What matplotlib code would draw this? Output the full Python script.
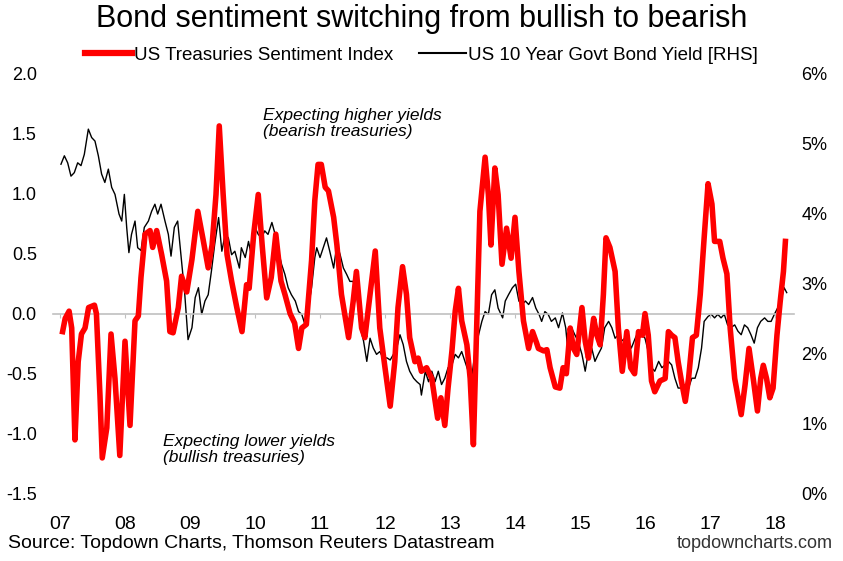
import numpy as np
import matplotlib.pyplot as plt
from matplotlib.lines import Line2D

# US Treasuries sentiment index (left axis)
sent_year = [2007.04, 2007.08, 2007.14, 2007.18, 2007.23, 2007.28, 2007.33, 2007.385, 2007.44, 2007.53,
             2007.56, 2007.615, 2007.65, 2007.72, 2007.785, 2007.846, 2007.92, 2008.0, 2008.077, 2008.154,
             2008.205, 2008.246, 2008.308, 2008.385, 2008.426, 2008.487, 2008.564, 2008.64, 2008.69, 2008.74,
             2008.82, 2008.87, 2008.95, 2009.03, 2009.12, 2009.20, 2009.28, 2009.34, 2009.40, 2009.45,
             2009.51, 2009.57, 2009.64, 2009.72, 2009.80, 2009.87, 2009.91, 2009.98, 2010.05, 2010.11,
             2010.18, 2010.25, 2010.32, 2010.40, 2010.46, 2010.54, 2010.61, 2010.67, 2010.72, 2010.79,
             2010.87, 2010.92, 2010.97, 2011.02, 2011.08, 2011.13, 2011.21, 2011.26, 2011.33, 2011.44,
             2011.51, 2011.56, 2011.64, 2011.69, 2011.77, 2011.85, 2011.92, 2012.0, 2012.08, 2012.15,
             2012.2, 2012.27, 2012.33, 2012.38, 2012.46, 2012.51, 2012.56, 2012.64, 2012.72, 2012.81,
             2012.86, 2012.92, 2012.97, 2013.03, 2013.08, 2013.13, 2013.18, 2013.26, 2013.31, 2013.36,
             2013.41, 2013.46, 2013.54, 2013.59, 2013.63, 2013.69, 2013.74, 2013.80, 2013.87, 2013.94,
             2014.0, 2014.06, 2014.13, 2014.21, 2014.27, 2014.33, 2014.36, 2014.44, 2014.49, 2014.54,
             2014.62, 2014.69, 2014.74, 2014.79, 2014.85, 2014.90, 2014.95, 2015.03, 2015.08, 2015.13,
             2015.21, 2015.26, 2015.31, 2015.36, 2015.40, 2015.46, 2015.54, 2015.59, 2015.65, 2015.72,
             2015.78, 2015.84, 2015.90, 2015.96, 2016.0, 2016.05, 2016.10, 2016.15, 2016.23, 2016.31,
             2016.36, 2016.41, 2016.46, 2016.51, 2016.56, 2016.62, 2016.67, 2016.73, 2016.79, 2016.85,
             2016.91, 2016.97, 2017.03, 2017.07, 2017.15, 2017.20, 2017.26, 2017.31, 2017.38, 2017.48,
             2017.54, 2017.60, 2017.67, 2017.73, 2017.78, 2017.82, 2017.87, 2017.92, 2017.97, 2018.03,
             2018.08, 2018.13, 2018.16]
sent_val = [-0.15, -0.04, 0.02, -0.12, -1.05, -0.40, -0.17, -0.12, 0.05, 0.07,
            0.00, -0.68, -1.20, -0.95, -0.17, -0.54, -1.18, -0.23, -0.93, -0.06,
            -0.02, 0.30, 0.66, 0.69, 0.55, 0.69, 0.49, 0.27, -0.15, -0.16,
            0.05, 0.31, 0.18, 0.45, 0.85, 0.62, 0.38, 0.57, 0.99, 1.56,
            0.99, 0.49, 0.27, 0.05, -0.15, 0.24, 0.21, 0.66, 0.99, 0.57,
            0.13, 0.30, 0.66, 0.27, 0.16, 0.00, -0.08, -0.29, -0.12, -0.09,
            0.44, 0.94, 1.24, 1.24, 1.05, 1.02, 0.80, 0.57, 0.16, -0.20,
            0.10, 0.35, -0.12, -0.20, 0.16, 0.52, -0.12, -0.45, -0.77, -0.40,
            0.05, 0.39, 0.16, -0.20, -0.40, -0.37, -0.48, -0.45, -0.54, -0.87,
            -0.70, -0.93, -0.62, -0.31, 0.02, 0.21, -0.06, -0.26, -0.54, -1.09,
            -0.12, 0.85, 1.30, 0.99, 0.57, 1.21, 0.99, 0.41, 0.71, 0.46,
            0.80, 0.35, -0.06, -0.29, -0.15, -0.24, -0.29, -0.31, -0.30, -0.45,
            -0.61, -0.62, -0.45, -0.50, -0.12, -0.29, -0.34, 0.05, -0.23, -0.37,
            -0.04, -0.18, -0.26, 0.16, 0.63, 0.55, 0.35, -0.12, -0.48, -0.15,
            -0.45, -0.50, -0.15, -0.18, 0.00, -0.18, -0.56, -0.65, -0.56, -0.54,
            -0.15, -0.18, -0.20, -0.40, -0.56, -0.73, -0.54, -0.20, -0.18, 0.16,
            0.63, 1.08, 0.91, 0.60, 0.60, 0.46, 0.33, -0.12, -0.54, -0.84,
            -0.59, -0.29, -0.56, -0.81, -0.54, -0.43, -0.54, -0.70, -0.62, -0.18,
            0.10, 0.35, 0.60]

# US 10 year govt bond yield, % (right axis)
yield_year = [2007.015, 2007.067, 2007.118, 2007.169, 2007.22, 2007.272, 2007.323, 2007.374, 2007.436, 2007.487,
              2007.538, 2007.59, 2007.64, 2007.69, 2007.744, 2007.795, 2007.846, 2007.908, 2007.95, 2007.99,
              2008.026, 2008.06, 2008.10, 2008.154, 2008.195, 2008.246, 2008.297, 2008.36, 2008.41, 2008.46,
              2008.503, 2008.554, 2008.615, 2008.667, 2008.708, 2008.759, 2008.81, 2008.87, 2008.92, 2008.97,
              2009.03, 2009.08, 2009.13, 2009.18, 2009.23, 2009.28, 2009.33, 2009.38, 2009.44, 2009.49,
              2009.54, 2009.59, 2009.64, 2009.69, 2009.76, 2009.79, 2009.85, 2009.90, 2009.95, 2010.0,
              2010.05, 2010.10, 2010.15, 2010.20, 2010.26, 2010.31, 2010.36, 2010.41, 2010.46, 2010.51,
              2010.56, 2010.62, 2010.67, 2010.72, 2010.77, 2010.82, 2010.87, 2010.92, 2010.95, 2011.0,
              2011.05, 2011.10, 2011.15, 2011.21, 2011.26, 2011.31, 2011.36, 2011.41, 2011.46, 2011.51,
              2011.56, 2011.62, 2011.67, 2011.72, 2011.77, 2011.82, 2011.87, 2011.92, 2011.97, 2012.03,
              2012.08, 2012.13, 2012.18, 2012.23, 2012.28, 2012.33, 2012.38, 2012.44, 2012.49, 2012.54,
              2012.56, 2012.62, 2012.67, 2012.72, 2012.77, 2012.82, 2012.87, 2012.92, 2012.97, 2013.03,
              2013.08, 2013.13, 2013.18, 2013.23, 2013.28, 2013.33, 2013.38, 2013.44, 2013.49, 2013.54,
              2013.59, 2013.64, 2013.69, 2013.74, 2013.81, 2013.85, 2013.90, 2013.96, 2014.01, 2014.06,
              2014.11, 2014.16, 2014.21, 2014.27, 2014.32, 2014.37, 2014.41, 2014.46, 2014.51, 2014.56,
              2014.62, 2014.67, 2014.73, 2014.78, 2014.81, 2014.87, 2014.92, 2014.97, 2015.03, 2015.08,
              2015.13, 2015.18, 2015.23, 2015.28, 2015.33, 2015.38, 2015.44, 2015.49, 2015.54, 2015.59,
              2015.64, 2015.69, 2015.74, 2015.79, 2015.85, 2015.90, 2015.95, 2016.0, 2016.05, 2016.10,
              2016.15, 2016.21, 2016.26, 2016.31, 2016.36, 2016.41, 2016.46, 2016.51, 2016.56, 2016.62,
              2016.67, 2016.72, 2016.77, 2016.82, 2016.87, 2016.91, 2016.97, 2017.02, 2017.07, 2017.12,
              2017.17, 2017.22, 2017.27, 2017.32, 2017.38, 2017.43, 2017.48, 2017.53, 2017.58, 2017.63,
              2017.68, 2017.73, 2017.78, 2017.84, 2017.89, 2017.94, 2017.99, 2018.04, 2018.09, 2018.14,
              2018.18]
yield_val = [4.70, 4.82, 4.72, 4.53, 4.58, 4.72, 4.68, 4.84, 5.20, 5.08,
             5.03, 4.82, 4.56, 4.44, 4.63, 4.37, 4.27, 3.99, 3.89, 4.27,
             3.80, 3.44, 3.70, 3.89, 3.51, 3.47, 3.80, 3.89, 4.03, 4.13,
             3.99, 4.13, 3.89, 3.70, 3.39, 3.80, 3.89, 3.32, 2.84, 2.20,
             2.37, 2.80, 2.94, 2.56, 2.75, 2.84, 3.18, 3.56, 3.94, 3.46,
             3.70, 3.65, 3.41, 3.46, 3.22, 3.51, 3.37, 3.60, 3.37, 3.80,
             3.70, 3.65, 3.75, 3.70, 3.87, 3.70, 3.46, 3.27, 3.13, 2.94,
             2.84, 2.75, 2.60, 2.56, 2.41, 2.65, 2.94, 3.37, 3.51, 3.37,
             3.51, 3.65, 3.46, 3.22, 3.56, 3.41, 3.22, 3.13, 3.03, 3.03,
             2.89, 2.37, 2.18, 1.89, 2.22, 2.08, 1.99, 2.03, 1.94, 1.94,
             1.91, 1.99, 2.08, 2.27, 2.13, 1.89, 1.75, 1.65, 1.60, 1.56,
             1.41, 1.75, 1.60, 1.75, 1.60, 1.75, 1.56, 1.65, 1.80, 1.84,
             1.99, 1.94, 2.03, 1.89, 1.75, 1.63, 1.99, 2.27, 2.46, 2.60,
             2.56, 2.84, 2.91, 2.65, 2.51, 2.75, 2.84, 2.94, 2.99, 2.75,
             2.70, 2.75, 2.70, 2.80, 2.65, 2.56, 2.46, 2.60, 2.56, 2.46,
             2.51, 2.37, 2.58, 2.37, 2.08, 2.37, 2.27, 2.18, 1.99, 1.75,
             2.03, 2.08, 1.89, 1.99, 2.08, 2.37, 2.46, 2.37, 2.22, 2.27,
             2.18, 2.22, 2.18, 2.08, 2.22, 2.32, 2.27, 2.22, 2.03, 1.80,
             1.75, 1.89, 1.80, 1.84, 1.89, 1.84, 1.65, 1.51, 1.51, 1.56,
             1.51, 1.65, 1.65, 1.80, 2.08, 2.46, 2.53, 2.56, 2.51, 2.56,
             2.51, 2.56, 2.41, 2.37, 2.41, 2.32, 2.27, 2.41, 2.37, 2.27,
             2.15, 2.37, 2.46, 2.51, 2.46, 2.46, 2.56, 2.65, 2.75, 2.94,
             2.87]

year_ticks = list(range(2007, 2019))
year_labels = ['%02d' % (y % 100) for y in year_ticks]

narrow = ['Liberation Sans Narrow', 'Liberation Sans', 'DejaVu Sans']
regular = ['Liberation Sans', 'DejaVu Sans']

fig = plt.figure(figsize=(8.43, 5.61), dpi=100)
ax = fig.add_axes([53.5 / 843, 1 - 494 / 561, 741 / 843, 421 / 561])
ax2 = ax.twinx()

ax.plot(sent_year, sent_val, color='#ff0000', lw=4.0, zorder=3, solid_joinstyle='round')
ax2.plot(yield_year, yield_val, color='black', lw=1.0, zorder=2)

ax.set_zorder(ax2.get_zorder() + 1)
ax.patch.set_visible(False)

ax.set_xlim(2006.9, 2018.3)
ax.set_ylim(-1.5, 2.0)
ax2.set_ylim(0, 6)

for a in (ax, ax2):
    for s in ('top', 'left', 'right'):
        a.spines[s].set_visible(False)
ax2.spines['bottom'].set_visible(False)

# zero line with year tick marks
ax.spines['bottom'].set_position(('data', 0))
ax.spines['bottom'].set_color('#c0c0c0')
ax.spines['bottom'].set_linewidth(1.2)
ax.set_xticks(year_ticks)
ax.tick_params(axis='x', direction='out', length=3, color='#c0c0c0', labelbottom=False)

sec = ax.secondary_xaxis('bottom')
sec.set_xticks(year_ticks)
sec.set_xticklabels(year_labels, family=narrow, fontsize=14)
sec.tick_params(length=0, pad=16)
sec.spines['bottom'].set_visible(False)

ax.set_yticks(np.arange(-1.5, 2.01, 0.5))
ax.set_yticklabels(['%.1f' % v for v in np.arange(-1.5, 2.01, 0.5)], family=regular, fontsize=13)
ax.tick_params(axis='y', length=0, pad=12)
ax2.set_yticks(range(0, 7))
ax2.set_yticklabels(['%d%%' % v for v in range(0, 7)], family=regular, fontsize=13)
ax2.tick_params(axis='y', length=0, pad=5)

ax.text(2010.12, 1.58, 'Expecting higher yields\n(bearish treasuries)', style='italic',
        family=regular, fontsize=12.5, va='center', linespacing=1.15)
ax.text(2008.58, -1.13, 'Expecting lower yields\n(bullish treasuries)', style='italic',
        family=regular, fontsize=12.5, va='center', linespacing=1.15)

fig.text(0.5, 1 - 19 / 561, 'Bond sentiment switching from bullish to bearish',
         ha='center', va='center', family=narrow, fontsize=22)

handles = [Line2D([], [], color='#ff0000', lw=4.5),
           Line2D([], [], color='black', lw=1.5)]
fig.legend(handles, ['US Treasuries Sentiment Index', 'US 10 Year Govt Bond Yield [RHS]'],
           loc='center', bbox_to_anchor=(0.5, 1 - 55 / 561), ncol=2, frameon=False,
           prop={'family': narrow, 'size': 13.5}, handlelength=2.5, handletextpad=0.1,
           columnspacing=1.4)

fig.text(8 / 843, 1 - 544 / 561, 'Source: Topdown Charts, Thomson Reuters Datastream',
         ha='left', va='center', family=narrow, fontsize=14)
fig.text(833 / 843, 1 - 544 / 561, 'topdowncharts.com',
         ha='right', va='center', family=narrow, fontsize=13, color='#333333')

fig.savefig('out.png', dpi=100)
